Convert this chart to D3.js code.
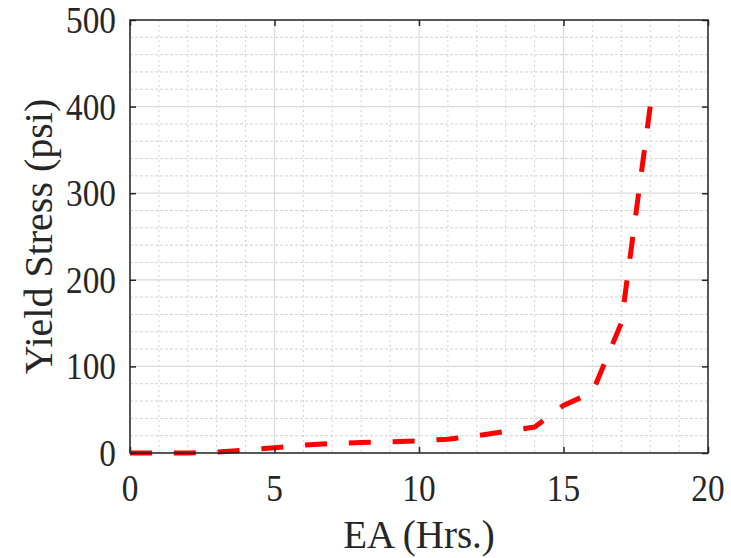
<!DOCTYPE html>
<html>
<head>
<meta charset="utf-8">
<script src="https://cdn.jsdelivr.net/npm/d3@7"></script>
<style>
    body { margin: 0; background: #fff; }
    svg { display: block; }
    .tickLabel { font-family: "Liberation Serif", "Times New Roman", serif; fill: #262626; }
    .axisTitle { font-family: "Liberation Serif", "Times New Roman", serif; fill: #262626; }
</style>
</head>
<body>
<div id="chart"></div>
<script>
// EA hours vs yield stress
var eaHours = [0, 2, 3, 5, 6, 7, 8, 10, 11, 12, 13, 14, 15, 16, 17, 18];
var yieldStress = [0, 0, 1, 6, 9, 11, 12, 14, 16, 20, 25, 30, 55, 70, 150, 400];

var xTicks = [0, 5, 10, 15, 20];
var yTicks = [0, 100, 200, 300, 400, 500];
var xMinor = d3.range(0, 21, 1);
var yMinor = d3.range(0, 501, 20);

var width = 731, height = 558;
// plot box edges ("top" is taken on window, so use plot* names)
var plotLeft = 130, plotRight = 708, plotTop = 20, plotBottom = 453;

var svg = d3.select("#chart")
    .append("svg")
    .attr("width", width)
    .attr("height", height);

var x = d3.scaleLinear().domain([0, 20]).range([plotLeft, plotRight]);
var y = d3.scaleLinear().domain([0, 500]).range([plotBottom, plotTop]);

// Minor grid (dotted)
var grid = svg.append("g");
grid.selectAll(".minorX")
    .data(xMinor.filter(function(d) { return xTicks.indexOf(d) < 0; }))
    .enter()
    .append("line")
    .attr("x1", function(d) { return x(d); })
    .attr("x2", function(d) { return x(d); })
    .attr("y1", plotTop).attr("y2", plotBottom)
    .attr("stroke", "#d2d2d2")
    .attr("stroke-width", 1)
    .attr("stroke-dasharray", "2,3");

grid.selectAll(".minorY")
    .data(yMinor.filter(function(d) { return yTicks.indexOf(d) < 0; }))
    .enter()
    .append("line")
    .attr("y1", function(d) { return y(d); })
    .attr("y2", function(d) { return y(d); })
    .attr("x1", plotLeft).attr("x2", plotRight)
    .attr("stroke", "#d2d2d2")
    .attr("stroke-width", 1)
    .attr("stroke-dasharray", "3,2");

// Major grid (solid)
grid.selectAll(".majorX")
    .data(xTicks)
    .enter()
    .append("line")
    .attr("x1", function(d) { return x(d); })
    .attr("x2", function(d) { return x(d); })
    .attr("y1", plotTop).attr("y2", plotBottom)
    .attr("stroke", "#dadada")
    .attr("stroke-width", 1.2);

grid.selectAll(".majorY")
    .data(yTicks)
    .enter()
    .append("line")
    .attr("y1", function(d) { return y(d); })
    .attr("y2", function(d) { return y(d); })
    .attr("x1", plotLeft).attr("x2", plotRight)
    .attr("stroke", "#dadada")
    .attr("stroke-width", 1.2);

// Data line
var line = d3.line()
    .x(function(d, i) { return x(eaHours[i]); })
    .y(function(d) { return y(d); });

var curve = svg.append("path")
    .datum(yieldStress)
    .attr("d", line)
    .attr("fill", "none")
    .attr("stroke", "#ff0000")
    .attr("stroke-width", 5);

// stretch the dash pattern a bit so a dash sits at both ends
var len = curve.node().getTotalLength();
var dash = 22;
var n = Math.round((len - dash) / 43);
var period = (len - dash) / n;
curve.attr("stroke-dasharray", dash + "," + (period - dash));

// Axes with inward ticks on all four sides
function styleAxis(g) {
    g.select(".domain").remove();
    g.selectAll(".tick line").attr("stroke", "#262626").attr("stroke-width", 1.5);
    g.selectAll("text").remove();
}

svg.append("g")
    .attr("transform", "translate(0," + plotBottom + ")")
    .call(d3.axisBottom(x).tickValues(xTicks).tickSizeInner(-6).tickSizeOuter(0))
    .call(styleAxis);
svg.append("g")
    .attr("transform", "translate(0," + plotTop + ")")
    .call(d3.axisTop(x).tickValues(xTicks).tickSizeInner(-6).tickSizeOuter(0))
    .call(styleAxis);
svg.append("g")
    .attr("transform", "translate(" + plotLeft + ",0)")
    .call(d3.axisLeft(y).tickValues(yTicks).tickSizeInner(-6).tickSizeOuter(0))
    .call(styleAxis);
svg.append("g")
    .attr("transform", "translate(" + plotRight + ",0)")
    .call(d3.axisRight(y).tickValues(yTicks).tickSizeInner(-6).tickSizeOuter(0))
    .call(styleAxis);

// Plot box
svg.append("rect")
    .attr("x", plotLeft).attr("y", plotTop)
    .attr("width", plotRight - plotLeft).attr("height", plotBottom - plotTop)
    .attr("fill", "none")
    .attr("stroke", "#262626")
    .attr("stroke-width", 1.5);

// Tick labels (narrow serif digits)
svg.selectAll(".xLabel")
    .data(xTicks)
    .enter()
    .append("text")
    .attr("class", "tickLabel")
    .attr("transform", function(d) { return "translate(" + x(d) + "," + (plotBottom + 48) + ") scale(0.9,1)"; })
    .attr("text-anchor", "middle")
    .style("font-size", "37px")
    .text(function(d) { return d; });

svg.selectAll(".yLabel")
    .data(yTicks)
    .enter()
    .append("text")
    .attr("class", "tickLabel")
    .attr("transform", function(d) { return "translate(" + (plotLeft - 14) + "," + (y(d) + 13) + ") scale(0.9,1)"; })
    .attr("text-anchor", "end")
    .style("font-size", "37px")
    .text(function(d) { return d; });

// Axis titles
svg.append("text")
    .attr("class", "axisTitle")
    .attr("x", (plotLeft + plotRight) / 2)
    .attr("y", 548)
    .attr("text-anchor", "middle")
    .style("font-size", "39px")
    .text("EA (Hrs.)");

svg.append("text")
    .attr("class", "axisTitle")
    .attr("transform", "translate(52," + ((plotTop + plotBottom) / 2) + ") rotate(-90)")
    .attr("text-anchor", "middle")
    .style("font-size", "40px")
    .text("Yield Stress (psi)");
</script>
</body>
</html>
